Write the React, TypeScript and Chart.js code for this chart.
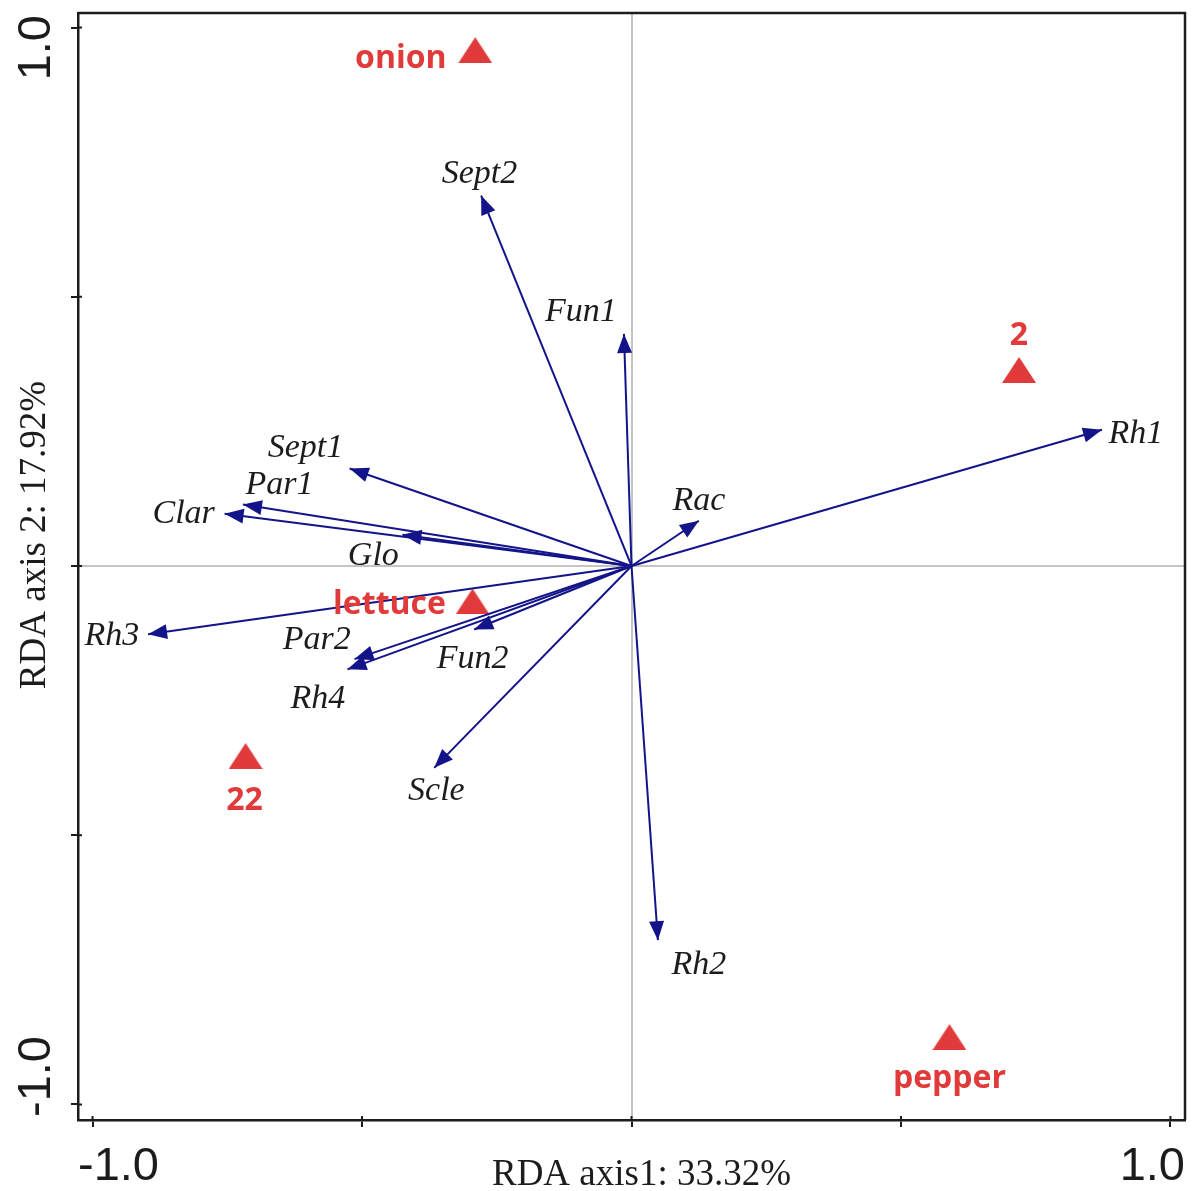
import React, { useEffect, useRef } from "react";
import { Chart, registerables } from "chart.js";

Chart.register(...registerables);

// Species (response) arrows
const speciesNames = ["Sept2", "Fun1", "Rh1", "Rac", "Sept1", "Par1", "Clar", "Glo", "Rh3", "Par2", "Rh4", "Fun2", "Scle", "Rh2"];
const speciesX = [-0.279, -0.014, 0.873, 0.125, -0.523, -0.721, -0.755, -0.425, -0.897, -0.514, -0.527, -0.292, -0.366, 0.049];
const speciesY = [0.688, 0.431, 0.253, 0.084, 0.181, 0.114, 0.097, 0.058, -0.127, -0.173, -0.192, -0.118, -0.375, -0.695];
// Species label anchors (data units, label centre)
const speciesLabelX = [-0.282, -0.094, 0.936, 0.125, -0.605, -0.653, -0.831, -0.479, -0.964, -0.584, -0.582, -0.295, -0.362, 0.125];
const speciesLabelY = [0.727, 0.471, 0.245, 0.121, 0.219, 0.151, 0.097, 0.018, -0.131, -0.138, -0.247, -0.173, -0.418, -0.742];

// Sites / samples (triangles)
const siteNames = ["onion", "2", "lettuce", "22", "pepper"];
const siteX = [-0.29, 0.719, -0.295, -0.716, 0.59];
const siteY = [0.958, 0.364, -0.066, -0.353, -0.875];
// Site label anchors (data units, baseline centre)
const siteLabelX = [-0.428, 0.719, -0.449, -0.718, 0.59];
const siteLabelY = [0.925, 0.41, -0.09, -0.454, -0.969];

// Axes
const axisTickValues = [-1.0, -0.5, 0, 0.5, 1.0];
const labelledTicks = ["-1.0", "1.0"];
const xAxisTitle = "RDA axis1: 33.32%";
const yAxisTitle = "RDA axis 2: 17.92%";

const ARROW = "#14148a";
const RED = "#e03a3a";
const INK = "#1c1c1c";

function makeTriangle(w: number, h: number, color: string) {
  const c = document.createElement("canvas");
  c.width = w;
  c.height = h;
  const g = c.getContext("2d")!;
  g.fillStyle = color;
  g.beginPath();
  g.moveTo(w / 2, 0);
  g.lineTo(w, h);
  g.lineTo(0, h);
  g.closePath();
  g.fill();
  return c;
}

const overlay = {
  id: "rdaOverlay",
  afterDatasetsDraw(chart: any) {
    const { ctx, chartArea } = chart;
    const xs = chart.scales.x;
    const ys = chart.scales.y;
    const ox = xs.getPixelForValue(0);
    const oy = ys.getPixelForValue(0);

    // arrowheads
    ctx.save();
    ctx.fillStyle = ARROW;
    for (let i = 0; i < speciesNames.length; i++) {
      const tx = xs.getPixelForValue(speciesX[i]);
      const ty = ys.getPixelForValue(speciesY[i]);
      const a = Math.atan2(ty - oy, tx - ox);
      const L = 19;
      const W = 7.5;
      const bx = tx - L * Math.cos(a);
      const by = ty - L * Math.sin(a);
      ctx.beginPath();
      ctx.moveTo(tx, ty);
      ctx.lineTo(bx + W * Math.sin(a), by - W * Math.cos(a));
      ctx.lineTo(bx - W * Math.sin(a), by + W * Math.cos(a));
      ctx.closePath();
      ctx.fill();
    }
    ctx.restore();

    // species labels
    ctx.save();
    ctx.font = 'italic 34px "Liberation Serif", "Times New Roman", serif';
    ctx.fillStyle = INK;
    ctx.textAlign = "center";
    ctx.textBaseline = "middle";
    for (let i = 0; i < speciesNames.length; i++) {
      ctx.fillText(speciesNames[i], xs.getPixelForValue(speciesLabelX[i]), ys.getPixelForValue(speciesLabelY[i]));
    }
    ctx.restore();

    // site labels
    ctx.save();
    ctx.font = 'bold 32px "Open Sans", "Liberation Sans", sans-serif';
    ctx.fillStyle = RED;
    ctx.textAlign = "center";
    ctx.textBaseline = "alphabetic";
    for (let i = 0; i < siteNames.length; i++) {
      ctx.fillText(siteNames[i], xs.getPixelForValue(siteLabelX[i]), ys.getPixelForValue(siteLabelY[i]));
    }
    ctx.restore();

    // top and right frame
    ctx.save();
    ctx.strokeStyle = INK;
    ctx.lineWidth = 2.5;
    ctx.beginPath();
    ctx.moveTo(chartArea.left, chartArea.top);
    ctx.lineTo(chartArea.right, chartArea.top);
    ctx.lineTo(chartArea.right, chartArea.bottom);
    ctx.stroke();
    ctx.restore();

    // inner parts of tick marks (ticks cross the frame)
    ctx.save();
    ctx.strokeStyle = INK;
    ctx.lineWidth = 2;
    ctx.beginPath();
    for (const v of axisTickValues) {
      const px = xs.getPixelForValue(v);
      ctx.moveTo(px, chartArea.bottom);
      ctx.lineTo(px, chartArea.bottom - 4);
      const py = ys.getPixelForValue(v);
      ctx.moveTo(chartArea.left, py);
      ctx.lineTo(chartArea.left + 4, py);
    }
    ctx.stroke();
    ctx.restore();

    // tick labels (only the ±1.0 ones), aligned to frame edges
    ctx.save();
    ctx.font = '47px "Liberation Sans", Arial, sans-serif';
    ctx.fillStyle = INK;
    ctx.textBaseline = "alphabetic";
    ctx.textAlign = "left";
    ctx.fillText(labelledTicks[0], chartArea.left, chartArea.bottom + 60);
    ctx.textAlign = "right";
    ctx.fillText(labelledTicks[1], chartArea.right, chartArea.bottom + 60);
    // y axis rotated
    ctx.translate(50, 0);
    ctx.rotate(-Math.PI / 2);
    ctx.textAlign = "right";
    ctx.fillText(labelledTicks[1], -chartArea.top - 2, 0);
    ctx.textAlign = "left";
    ctx.fillText(labelledTicks[0], -chartArea.bottom + 3, 0);
    ctx.restore();

    // axis titles
    ctx.save();
    ctx.font = '37px "Liberation Serif", "Times New Roman", serif';
    ctx.fillStyle = INK;
    ctx.textAlign = "center";
    ctx.textBaseline = "alphabetic";
    ctx.fillText(xAxisTitle, (chartArea.left + chartArea.right) / 2 + 10, 1185);
    ctx.translate(45, 535);
    ctx.rotate(-Math.PI / 2);
    ctx.fillText(yAxisTitle, 0, 0);
    ctx.restore();
  },
};

export default function App() {
  const ref = useRef<HTMLCanvasElement | null>(null);

  useEffect(() => {
    if (!ref.current) return;
    const tri = makeTriangle(34, 26, RED);
    const arrowSets = speciesNames.map((n, i) => ({
      label: n,
      data: [
        { x: 0, y: 0 },
        { x: speciesX[i], y: speciesY[i] },
      ],
      showLine: true,
      borderColor: ARROW,
      borderWidth: 2,
      pointRadius: 0,
      pointHoverRadius: 0,
      fill: false,
    }));
    const siteSet = {
      label: "sites",
      data: siteX.map((x, i) => ({ x, y: siteY[i] })),
      pointStyle: tri as any,
      pointRadius: 12,
      showLine: false,
      backgroundColor: RED,
      borderColor: RED,
    };

    const gridCfg = {
      color: (c: any) => (c.tick && c.tick.value === 0 ? "#c4c4c4" : "rgba(0,0,0,0)"),
      lineWidth: 2,
      tickColor: INK,
      tickWidth: 2,
      tickLength: 7,
      drawTicks: true,
    };

    const chart = new Chart(ref.current, {
      type: "scatter",
      data: { datasets: [...arrowSets, siteSet] as any },
      options: {
        responsive: false,
        animation: false,
        events: [],
        layout: { padding: { left: 0, top: 10, right: 11, bottom: 0 } },
        plugins: { legend: { display: false }, tooltip: { enabled: false }, title: { display: false } },
        scales: {
          x: {
            type: "linear",
            min: -1.027,
            max: 1.027,
            afterBuildTicks: (s: any) => {
              s.ticks = axisTickValues.map((v) => ({ value: v }));
            },
            afterFit: (s: any) => {
              s.height = 71;
            },
            ticks: { display: false },
            grid: gridCfg as any,
            border: { display: true, color: INK, width: 2.5 },
          },
          y: {
            type: "linear",
            min: -1.029,
            max: 1.027,
            afterBuildTicks: (s: any) => {
              s.ticks = axisTickValues.map((v) => ({ value: v }));
            },
            afterFit: (s: any) => {
              s.width = 78;
            },
            ticks: { display: false },
            grid: gridCfg as any,
            border: { display: true, color: INK, width: 2.5 },
          },
        },
      },
      plugins: [overlay],
    });
    return () => chart.destroy();
  }, []);

  return (
    <div style={{ position: "absolute", left: 0, top: 0, width: 1198, height: 1191, background: "#fff" }}>
      <canvas ref={ref} width={1198} height={1191} style={{ display: "block" }} />
    </div>
  );
}
